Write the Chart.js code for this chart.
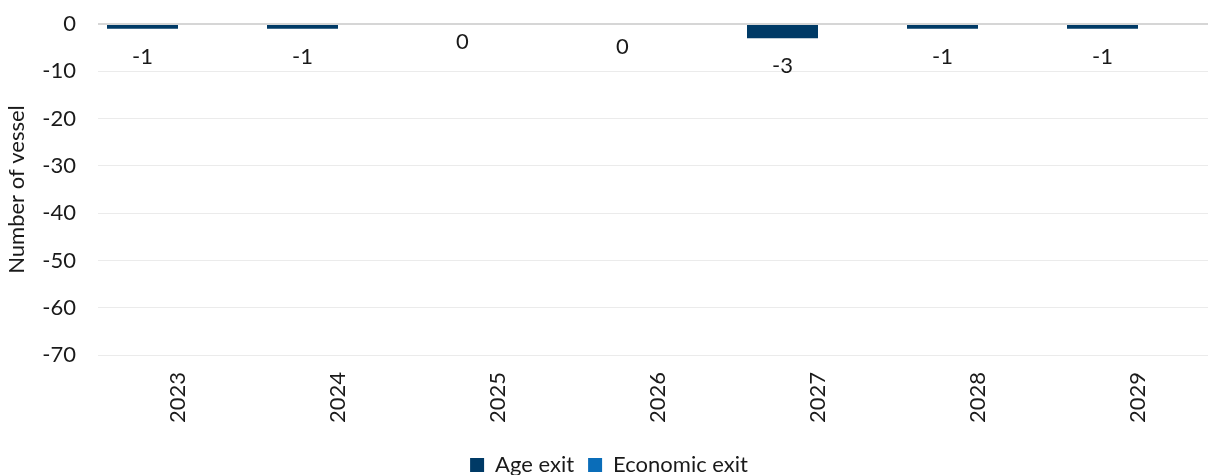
<!DOCTYPE html>
<html>
<head>
<meta charset="utf-8">
<script src="https://cdn.jsdelivr.net/npm/chart.js@4.4.1/dist/chart.umd.min.js"></script>
<style>
  html, body { margin: 0; padding: 0; background: #ffffff; overflow: hidden; }
  #wrap { width: 1240px; height: 475px; overflow: hidden; }
</style>
</head>
<body>
<div id="wrap"><canvas id="c" width="1240" height="486"></canvas></div>
<script>
// Vessel exits per year
const years = ['2023', '2024', '2025', '2026', '2027', '2028', '2029'];
const ageExit = [-1, -1, 0, 0, -3, -1, -1];
const economicExit = [0, 0, 0, 0, 0, 0, 0];
const yTicks = [0, -10, -20, -30, -40, -50, -60, -70];

const FONT = 'Lato, "Open Sans", sans-serif';
const TEXT = '#1a1a1a';
const FS = 22;

// Value labels for the age-exit bars, placed below each bar end
const valueLabels = {
  id: 'valueLabels',
  afterDatasetsDraw(chart) {
    const ctx = chart.ctx;
    const meta = chart.getDatasetMeta(0);
    const drop = [28, 28, 18, 23, 28, 28, 28];
    ctx.save();
    ctx.font = FS + 'px ' + FONT;
    ctx.fillStyle = TEXT;
    ctx.textAlign = 'center';
    ctx.textBaseline = 'middle';
    meta.data.forEach((el, i) => {
      ctx.fillText(String(ageExit[i]), el.x, el.y + drop[i]);
    });
    ctx.restore();
  }
};

new Chart(document.getElementById('c'), {
  type: 'bar',
  data: {
    labels: years,
    datasets: [
      { label: 'Age exit', data: ageExit, backgroundColor: '#003A66' },
      { label: 'Economic exit', data: economicExit, backgroundColor: '#0A6DB9' }
    ]
  },
  options: {
    responsive: false,
    devicePixelRatio: 1,
    animation: false,
    categoryPercentage: 0.8875,
    barPercentage: 1.0,
    layout: { padding: { top: 24, right: 22, left: 0, bottom: 0 } },
    plugins: {
      tooltip: { enabled: false },
      legend: {
        position: 'bottom',
        labels: {
          font: { family: FONT, size: FS },
          color: TEXT,
          boxWidth: 14,
          boxHeight: 14,
          padding: 14
        }
      }
    },
    scales: {
      x: {
        grid: { display: false, drawTicks: false },
        border: { display: false },
        ticks: {
          minRotation: 90,
          maxRotation: 90,
          padding: 17,
          color: TEXT,
          font: { family: FONT, size: FS }
        },
        afterFit(s) { s.height = 85; }
      },
      y: {
        min: -70,
        max: 0,
        afterBuildTicks(s) { s.ticks = yTicks.map(v => ({ value: v })); },
        grid: {
          drawTicks: true,
          tickLength: 22,
          tickColor: 'rgba(0,0,0,0)',
          color: ctx => ctx.tick && ctx.tick.value === 0 ? '#D6D6D6' : '#EBEBEB',
          lineWidth: ctx => ctx.tick && ctx.tick.value === 0 ? 2 : 1
        },
        border: { display: false },
        ticks: {
          padding: 0,
          color: TEXT,
          font: { family: FONT, size: FS }
        },
        title: {
          display: true,
          text: 'Number of vessel',
          color: TEXT,
          font: { family: FONT, size: FS },
          padding: { top: 4, bottom: 0 }
        },
        afterFit(s) { s.width = 98; }
      }
    }
  },
  plugins: [valueLabels]
});
</script>
</body>
</html>
